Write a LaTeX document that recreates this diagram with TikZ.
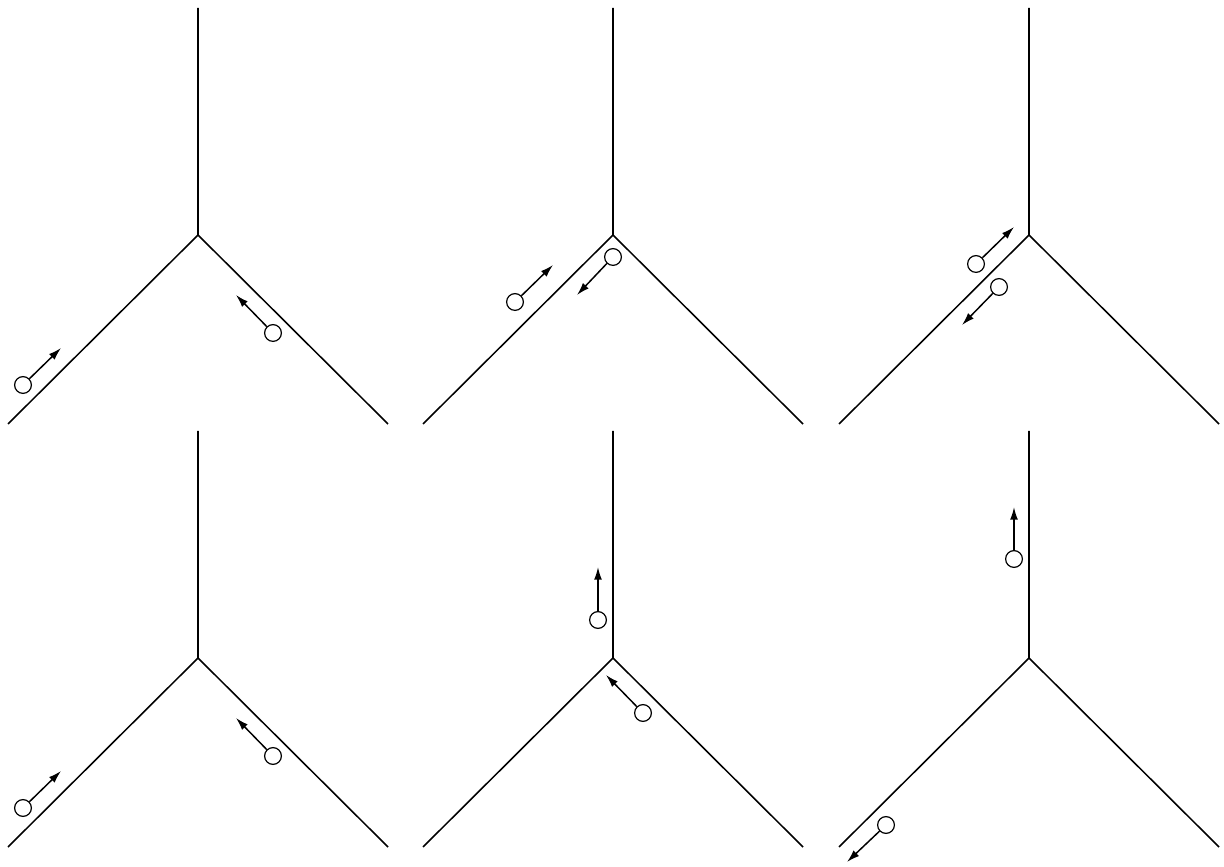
\documentclass[tikz,border=0pt]{standalone}
\usetikzlibrary{arrows.meta}

\begin{document}
\begin{tikzpicture}[>={Latex[length=9pt,width=5.6pt]},
        track/.style={line width=1.1pt},
        ball/.style={draw,circle,line width=0.85pt,inner sep=0pt,minimum size=0.42cm},
        move/.style={->,line width=1.05pt}]
    \useasboundingbox (0,0) rectangle (30.6,21.65);

    % (1) both cars heading in
    \begin{scope}[xshift=4.95cm,yshift=15.775cm]
        \coordinate (j1) at (0,0);
        \coordinate (t1) at (0,5.675);
        \coordinate (l1) at (-4.75,-4.725);
        \coordinate (r1) at (4.75,-4.725);
        \draw[track] (t1) -- (j1) -- (l1) (j1) -- (r1);

        \node[ball] (b1a) at (-4.375,-3.75) {};
        \coordinate (e1a) at (-3.425,-2.825);
        \draw[move] (b1a) -- (e1a);
        \node[ball] (b1b) at (1.875,-2.45) {};
        \coordinate (e1b) at (0.95,-1.5);
        \draw[move] (b1b) -- (e1b);
    \end{scope}

    % (2)
    \begin{scope}[xshift=15.325cm,yshift=15.775cm]
        \coordinate (j2) at (0,0);
        \coordinate (t2) at (0,5.675);
        \coordinate (l2) at (-4.75,-4.725);
        \coordinate (r2) at (4.75,-4.725);
        \draw[track] (t2) -- (j2) -- (l2) (j2) -- (r2);

        \node[ball] (b2a) at (-2.45,-1.675) {};
        \coordinate (e2a) at (-1.5,-0.75);
        \draw[move] (b2a) -- (e2a);
        \node[ball] (b2b) at (0,-0.55) {};
        \coordinate (e2b) at (-0.9,-1.5);
        \draw[move] (b2b) -- (e2b);
    \end{scope}

    % (3)
    \begin{scope}[xshift=25.725cm,yshift=15.775cm]
        \coordinate (j3) at (0,0);
        \coordinate (t3) at (0,5.675);
        \coordinate (l3) at (-4.75,-4.725);
        \coordinate (r3) at (4.75,-4.725);
        \draw[track] (t3) -- (j3) -- (l3) (j3) -- (r3);

        \node[ball] (b3a) at (-1.325,-0.725) {};
        \coordinate (e3a) at (-0.375,0.2);
        \draw[move] (b3a) -- (e3a);
        \node[ball] (b3b) at (-0.75,-1.3) {};
        \coordinate (e3b) at (-1.675,-2.25);
        \draw[move] (b3b) -- (e3b);
    \end{scope}

    % (4) same start, second run
    \begin{scope}[xshift=4.95cm,yshift=5.2cm]
        \coordinate (j4) at (0,0);
        \coordinate (t4) at (0,5.675);
        \coordinate (l4) at (-4.75,-4.725);
        \coordinate (r4) at (4.75,-4.725);
        \draw[track] (t4) -- (j4) -- (l4) (j4) -- (r4);

        \node[ball] (b4a) at (-4.375,-3.75) {};
        \coordinate (e4a) at (-3.425,-2.825);
        \draw[move] (b4a) -- (e4a);
        \node[ball] (b4b) at (1.875,-2.45) {};
        \coordinate (e4b) at (0.95,-1.5);
        \draw[move] (b4b) -- (e4b);
    \end{scope}

    % (5)
    \begin{scope}[xshift=15.325cm,yshift=5.2cm]
        \coordinate (j5) at (0,0);
        \coordinate (t5) at (0,5.675);
        \coordinate (l5) at (-4.75,-4.725);
        \coordinate (r5) at (4.75,-4.725);
        \draw[track] (t5) -- (j5) -- (l5) (j5) -- (r5);

        \node[ball] (b5a) at (-0.375,0.95) {};
        \coordinate (e5a) at (-0.375,2.275);
        \draw[move] (b5a) -- (e5a);
        \node[ball] (b5b) at (0.75,-1.375) {};
        \coordinate (e5b) at (-0.175,-0.425);
        \draw[move] (b5b) -- (e5b);
    \end{scope}

    % (6)
    \begin{scope}[xshift=25.725cm,yshift=5.2cm]
        \coordinate (j6) at (0,0);
        \coordinate (t6) at (0,5.675);
        \coordinate (l6) at (-4.75,-4.725);
        \coordinate (r6) at (4.75,-4.725);
        \draw[track] (t6) -- (j6) -- (l6) (j6) -- (r6);

        \node[ball] (b6a) at (-0.375,2.475) {};
        \coordinate (e6a) at (-0.375,3.775);
        \draw[move] (b6a) -- (e6a);
        \node[ball] (b6b) at (-3.575,-4.175) {};
        \coordinate (e6b) at (-4.55,-5.1);
        \draw[move] (b6b) -- (e6b);
    \end{scope}
\end{tikzpicture}
\end{document}
